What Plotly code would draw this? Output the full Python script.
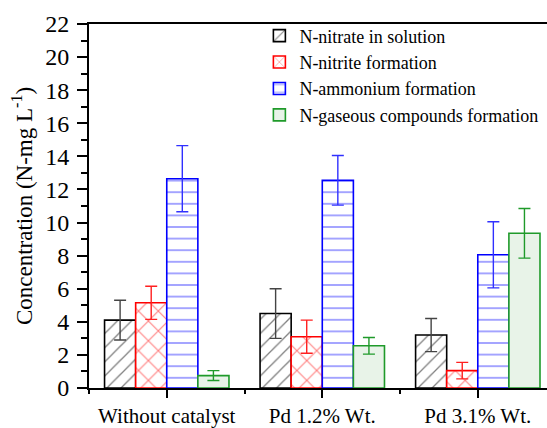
import plotly.graph_objects as go

categories = ["Without catalyst", "Pd 1.2% Wt.", "Pd 3.1% Wt."]
series_names = ["N-nitrate in solution", "N-nitrite formation",
                "N-ammonium formation", "N-gaseous compounds formation"]
nitrate = [4.1, 4.5, 3.2]
nitrate_err = [1.2, 1.5, 1.0]
nitrite = [5.15, 3.1, 1.05]
nitrite_err = [1.0, 1.0, 0.5]
ammonium = [12.65, 12.55, 8.05]
ammonium_err = [2.0, 1.5, 2.0]
gaseous = [0.75, 2.55, 9.35]
gaseous_err = [0.3, 0.5, 1.5]

x_pos = list(range(len(categories)))
FONT = "Liberation Serif"

styles = [
    dict(line="#000000", err="#444444", shape="/", fg="#000000", bg="#ffffff", size=10, sol=0.13),
    dict(line="#ff0000", err="#ff2020", shape="x", fg="#ff0000", bg="#ffffff", size=14, sol=0.15),
    dict(line="#0000ff", err="#3030ff", shape="-", fg="#0000ff", bg="#ffffff", size=11.6, sol=0.12),
    dict(line="#1f9a2a", err="#1f9a2a", shape="", fg="#1f9a2a", bg="#e8f3e8", size=10, sol=0.1),
]
values = [nitrate, nitrite, ammonium, gaseous]
errors = [nitrate_err, nitrite_err, ammonium_err, gaseous_err]

fig = go.Figure()
for name, vals, errs, st in zip(series_names, values, errors, styles):
    fig.add_trace(go.Bar(
        x=x_pos, y=vals, name=name,
        marker=dict(
            color=st["bg"],
            line=dict(color=st["line"], width=1.6),
            pattern=dict(shape=st["shape"], fgcolor=st["fg"], bgcolor=st["bg"],
                         size=st["size"], solidity=st["sol"], fillmode="overlay"),
        ),
        error_y=dict(type="data", array=errs, visible=True, color=st["err"],
                     thickness=1.4, width=6),
    ))

fig.update_layout(
    width=547, height=428,
    margin=dict(l=89, r=0, t=24, b=36),
    paper_bgcolor="white", plot_bgcolor="white",
    barmode="group", bargap=0.2, bargroupgap=0,
    font=dict(family=FONT, color="black"),
    legend=dict(x=0.372, y=1.018, xanchor="left", yanchor="top",
                font=dict(family=FONT, size=18, color="black"),
                bgcolor="rgba(255,255,255,0)", borderwidth=0,
                tracegroupgap=0, itemwidth=30),
    showlegend=True,
)
fig.update_xaxes(
    range=[-0.5, 2.445], tickmode="array", tickvals=x_pos, ticktext=categories,
    ticks="outside", ticklen=8, tickwidth=2, tickcolor="black",
    showline=True, linecolor="black", linewidth=2, mirror=True,
    showgrid=False, zeroline=False,
    tickfont=dict(family=FONT, size=21, color="black"),
    minor=dict(tickmode="linear", tick0=0.5, dtick=1, ticks="outside",
               ticklen=4, tickwidth=2, tickcolor="black", showgrid=False),
)
fig.update_yaxes(
    range=[0, 22], dtick=2, tick0=0,
    ticks="outside", ticklen=10, tickwidth=2, tickcolor="black",
    showline=True, linecolor="black", linewidth=2, mirror=False,
    showgrid=False, zeroline=False,
    tickfont=dict(family=FONT, size=24, color="black"),
    ticklabelstandoff=3,
    minor=dict(dtick=1, ticks="outside", ticklen=6, tickwidth=2,
               tickcolor="black", showgrid=False),
    title=dict(text="Concentration (N-mg L<sup>-1</sup>)",
               font=dict(family=FONT, size=23, color="black"), standoff=6),
)

fig.write_html("out.html")
